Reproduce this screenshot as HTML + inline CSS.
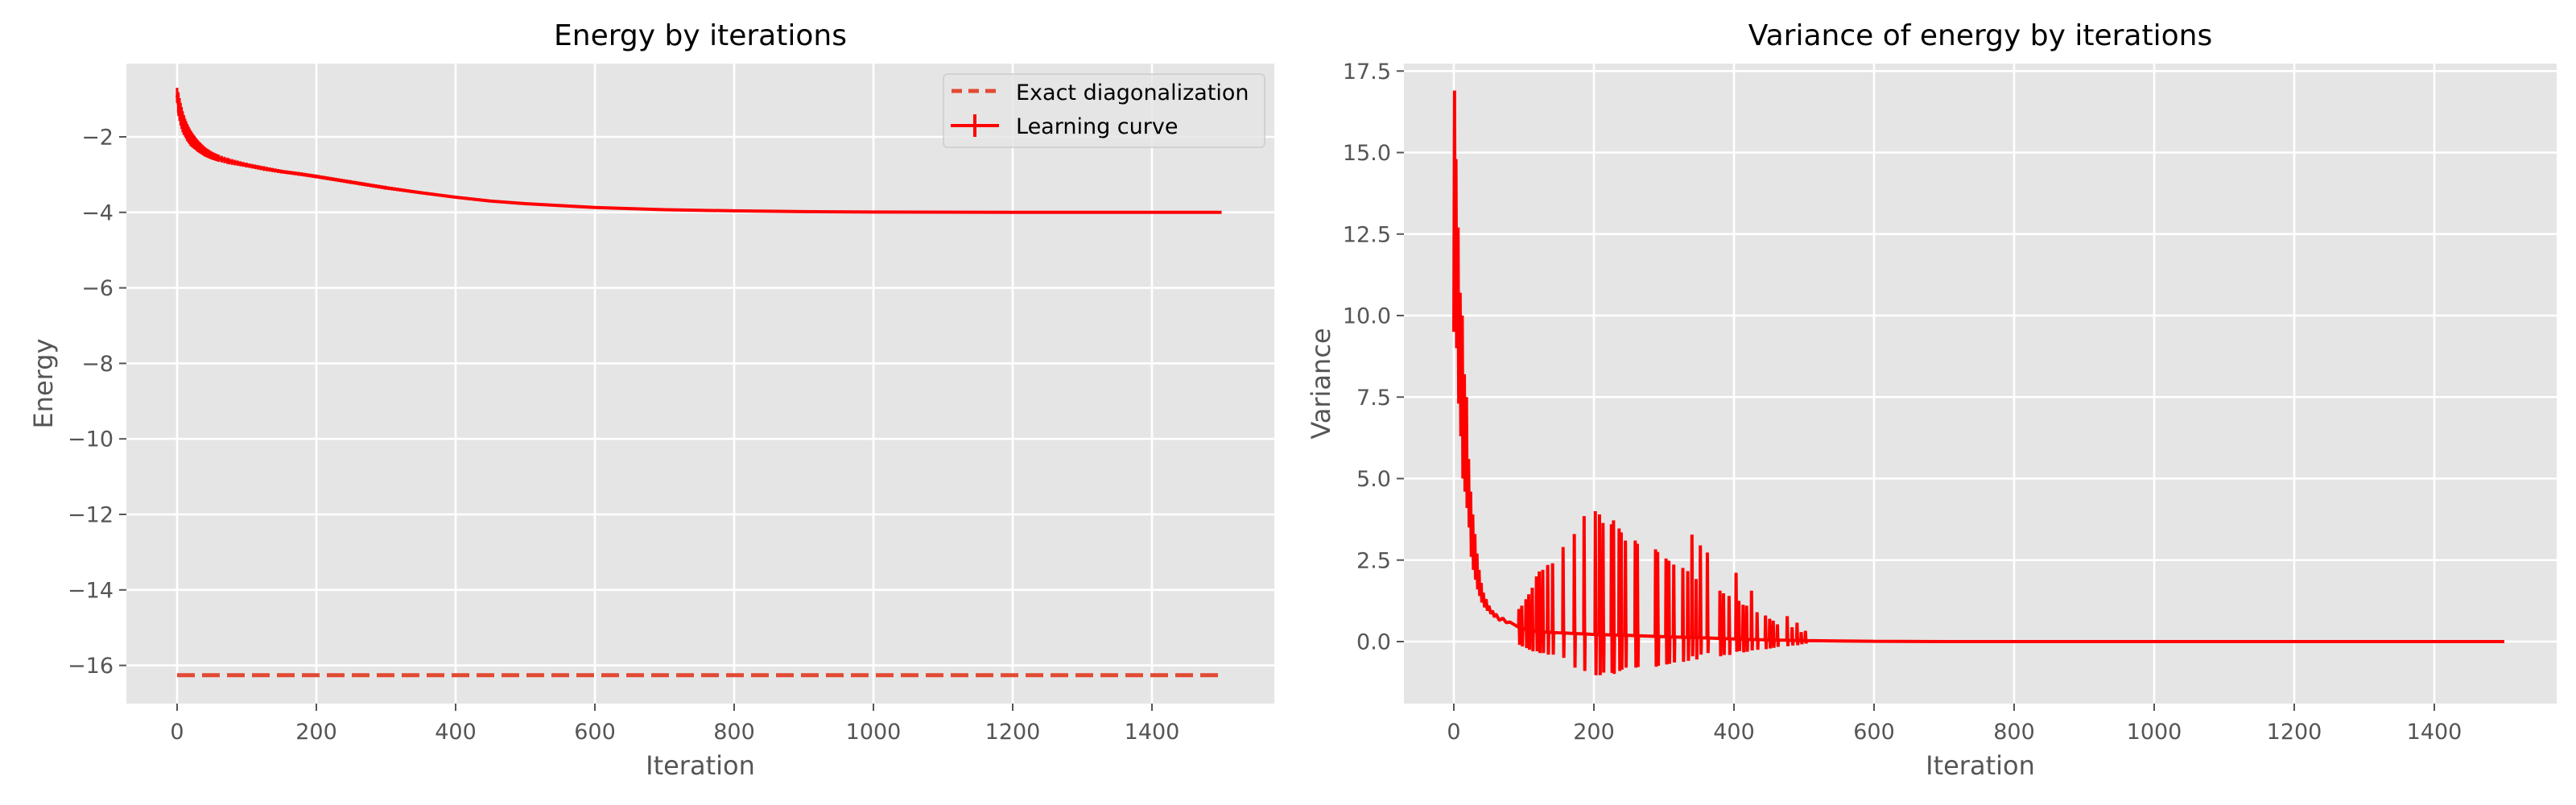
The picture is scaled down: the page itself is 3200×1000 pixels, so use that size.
<!DOCTYPE html>
<html><head><meta charset="utf-8">
<style>
html,body{margin:0;padding:0;background:#fff;}
svg{display:block;font-family:"DejaVu Sans","Liberation Sans",sans-serif;}
</style></head>
<body>
<svg id="fig" width="3200" height="1000" viewBox="0 0 3200 1000" xmlns="http://www.w3.org/2000/svg"></svg>
<script>
// ---------- Energy chart data ----------
const energyIter = [0,2,5,8,10,15,20,25,30,40,50,60,75,100,125,150,175,200,250,300,350,400,450,500,600,700,800,900,1000,1200,1500];
const energyMean = [-0.9,-1.15,-1.4,-1.6,-1.7,-1.9,-2.05,-2.15,-2.25,-2.4,-2.5,-2.57,-2.65,-2.75,-2.84,-2.92,-2.98,-3.05,-3.2,-3.35,-3.48,-3.6,-3.7,-3.77,-3.87,-3.93,-3.96,-3.98,-3.99,-4.0,-4.0];
const energyErr  = [0.2,0.3,0.3,0.28,0.25,0.22,0.2,0.17,0.15,0.12,0.1,0.09,0.08,0.06,0.06,0.05,0.05,0.05,0.05,0.05,0.04,0.03,0.02,0.015,0.01,0.01,0.01,0.01,0.01,0.01,0.01];
const exactIter = [0,1500];
const exactValue = [-16.26,-16.26];
const energyYTicks = [-2,-4,-6,-8,-10,-12,-14,-16];
const xTicks = [0,200,400,600,800,1000,1200,1400];

// ---------- Variance chart data ----------
const varIter = [0,1,2,3,4,6,7,9,10,12,13,15,16,18,19,21,22,24,25,27,28,30,31,33,34,36,37,39,40,42,44,46,48,50,53,55,58,60,65,70,75,80,90,100,120,150,200,250,300,350,400,450,500,550,600,700,1500];
const varValue = [9.5,16.9,9.9,14.8,9.0,12.7,7.3,10.7,6.3,10.0,5.0,8.2,4.6,7.5,4.1,5.6,3.5,4.6,2.6,3.9,2.2,3.3,1.9,2.7,1.6,2.2,1.4,1.8,1.2,1.5,1.05,1.3,0.95,1.1,0.85,0.95,0.75,0.85,0.65,0.72,0.58,0.6,0.47,0.38,0.3,0.27,0.22,0.19,0.15,0.12,0.08,0.05,0.03,0.02,0.01,0.0,0.0];
const spikeIter = [93,97,103,107,112,118,122,127,134,141,156,172,186,202,208,213,225,228,236,239,245,259,262,288,291,303,307,314,327,334,340,346,352,362,380,385,393,403,407,413,418,425,433,445,451,456,462,476,483,490,496,502];
const spikeTop = [1.0,1.1,1.3,1.45,1.65,2.0,2.15,2.2,2.35,2.4,2.9,3.3,3.85,4.0,3.9,3.64,3.6,3.72,3.47,3.35,3.1,3.1,3.0,2.83,2.75,2.55,2.48,2.36,2.26,2.16,3.28,1.92,2.95,2.73,1.56,1.48,1.4,2.11,1.25,1.13,1.1,1.56,0.9,0.8,0.7,0.64,0.53,0.78,0.44,0.58,0.29,0.33];
const spikeBottom = [-0.1,-0.15,-0.2,-0.25,-0.3,-0.3,-0.35,-0.35,-0.4,-0.4,-0.5,-0.8,-0.9,-1.03,-1.03,-0.95,-0.96,-0.99,-0.9,-0.86,-0.8,-0.8,-0.78,-0.77,-0.74,-0.7,-0.68,-0.64,-0.62,-0.59,-0.45,-0.55,-0.4,-0.35,-0.45,-0.41,-0.41,-0.31,-0.29,-0.33,-0.31,-0.27,-0.25,-0.23,-0.21,-0.19,-0.16,-0.14,-0.12,-0.11,-0.08,-0.06];
const varYTicks = [0,2.5,5,7.5,10,12.5,15,17.5];

const NS = "http://www.w3.org/2000/svg";
const svg = document.getElementById('fig');
function mk(tag, attrs, parent){
  const e = document.createElementNS(NS, tag);
  for (const k in attrs) e.setAttribute(k, attrs[k]);
  (parent||svg).appendChild(e);
  return e;
}
function txt(s, attrs, parent){ const e = mk('text', attrs, parent); e.textContent = s; return e; }

const L = {x0:157, x1:1583, y0:79, y1:874, xs:it=>220+0.865*it, ys:v=>170-( v+2)*46.9};
const R = {x0:1744, x1:3176, y0:79, y1:874, xs:it=>1806+0.87*it, ys:v=>797-v*40.5};

function axes(A, name, yTicks, yFmt, title, ylabel){
  const g = mk('g', {});
  
  
  const bg = mk('rect', {x:A.x0, y:A.y0, width:A.x1-A.x0, height:A.y1-A.y0, fill:'#E5E5E5'}, g);
  
  
  xTicks.forEach(t=>{
    const x = A.xs(t);
    const gl = mk('line', {x1:x, x2:x, y1:A.y0, y2:A.y1, stroke:'#fff', 'stroke-width':2.6}, g);
    
    
    mk('line', {x1:x, x2:x, y1:A.y1, y2:A.y1+9, stroke:'#555', 'stroke-width':2}, g);
    const tl = txt(String(t), {x:x, y:A.y1+44, 'font-size':27, fill:'#555', 'text-anchor':'middle'}, g);
    
    
  });
  yTicks.forEach(t=>{
    const y = A.ys(t);
    const gl = mk('line', {x1:A.x0, x2:A.x1, y1:y, y2:y, stroke:'#fff', 'stroke-width':2.6}, g);
    
    
    mk('line', {x1:A.x0-9, x2:A.x0, y1:y, y2:y, stroke:'#555', 'stroke-width':2}, g);
    const tl = txt(yFmt(t), {x:A.x0-16, y:y+9.5, 'font-size':27, fill:'#555', 'text-anchor':'end'}, g);
    
    
  });
  const cx = (A.x0+A.x1)/2, cy=(A.y0+A.y1)/2;
  const tt = txt(title, {x:cx, y:56, 'font-size':36, fill:'#000', 'text-anchor':'middle'}, g);
  
  
  const xl = txt('Iteration', {x:cx, y:962, 'font-size':32, fill:'#555', 'text-anchor':'middle'}, g);
  
  
  const yx = A.x0-92;
  const yl = txt(ylabel, {x:yx, y:cy, 'font-size':32, fill:'#555', 'text-anchor':'middle', transform:`rotate(-90 ${yx} ${cy})`}, g);
  
  
  return g;
}

// ---------- Left chart ----------
const gL = axes(L, 'energy-chart', energyYTicks, t=>(t<0?'\u2212':'')+Math.abs(t), 'Energy by iterations', 'Energy');
const ex = mk('line', {x1:L.xs(exactIter[0]), x2:L.xs(exactIter[1]), y1:L.ys(exactValue[0]), y2:L.ys(exactValue[1]), stroke:'#E24A33', 'stroke-width':5, 'stroke-dasharray':'22,9'}, gL);


const eb = mk('g', {}, gL);


for (let i=0;i<energyIter.length-1;i++){
  const a=energyIter[i], b=energyIter[i+1];
  const step = b<=60?1.5:(b<=500?4:20);
  for (let it=a; it<b; it+=step){
    const f=(it-a)/(b-a);
    const m=energyMean[i]+f*(energyMean[i+1]-energyMean[i]);
    const e=energyErr[i]+f*(energyErr[i+1]-energyErr[i]);
    const x=L.xs(it);
    mk('line',{x1:x,x2:x,y1:L.ys(m+e),y2:L.ys(m-e),stroke:'#ff0000','stroke-width':3}, eb);
  }
}
const ePts = energyIter.map((it,i)=>L.xs(it)+','+L.ys(energyMean[i])).join(' ');
const el = mk('polyline', {points:ePts, fill:'none', stroke:'#ff0000', 'stroke-width':4}, gL);



const lg = mk('g', {}, gL);


mk('rect', {x:1172, y:92, width:399, height:91, rx:5, fill:'#E5E5E5', 'fill-opacity':0.8, stroke:'#cccccc', 'stroke-width':1.5}, lg);
const l1 = mk('line', {x1:1182, x2:1240, y1:113, y2:113, stroke:'#E24A33', 'stroke-width':5, 'stroke-dasharray':'13,8'}, lg);


const lt1 = txt('Exact diagonalization', {x:1262, y:124, 'font-size':27, fill:'#000'}, lg);


mk('line', {x1:1181, x2:1241, y1:156, y2:156, stroke:'#ff0000', 'stroke-width':4}, lg);
mk('line', {x1:1211, x2:1211, y1:142, y2:170, stroke:'#ff0000', 'stroke-width':4}, lg);
const lt2 = txt('Learning curve', {x:1262, y:166, 'font-size':27, fill:'#000'}, lg);



// ---------- Right chart ----------
const gR = axes(R, 'variance-chart', varYTicks, t=>t.toFixed(1), 'Variance of energy by iterations', 'Variance');
const pts = varIter.map((it,i)=>({it, v:varValue[i], s:false}));
spikeIter.forEach((it,i)=>pts.push({it, top:spikeTop[i], bot:spikeBottom[i], s:true}));
pts.sort((a,b)=>a.it-b.it);
function baseAt(it){
  for (let i=0;i<varIter.length-1;i++){
    if (it>=varIter[i] && it<=varIter[i+1]){
      const f=(it-varIter[i])/(varIter[i+1]-varIter[i]);
      return varValue[i]+f*(varValue[i+1]-varValue[i]);
    }
  }
  return 0;
}
const vp = [];
pts.forEach(p=>{
  if (!p.s) vp.push([p.it, p.v]);
  else { const b=baseAt(p.it); vp.push([p.it-0.5,b],[p.it,p.top],[p.it+1,p.bot],[p.it+1.5,b]); }
});
const vl = mk('polyline', {points:vp.map(p=>R.xs(p[0])+','+R.ys(p[1])).join(' '), fill:'none', stroke:'#ff0000', 'stroke-width':4, 'stroke-linejoin':'miter', 'stroke-miterlimit':1}, gR);


</script>
</body></html>
